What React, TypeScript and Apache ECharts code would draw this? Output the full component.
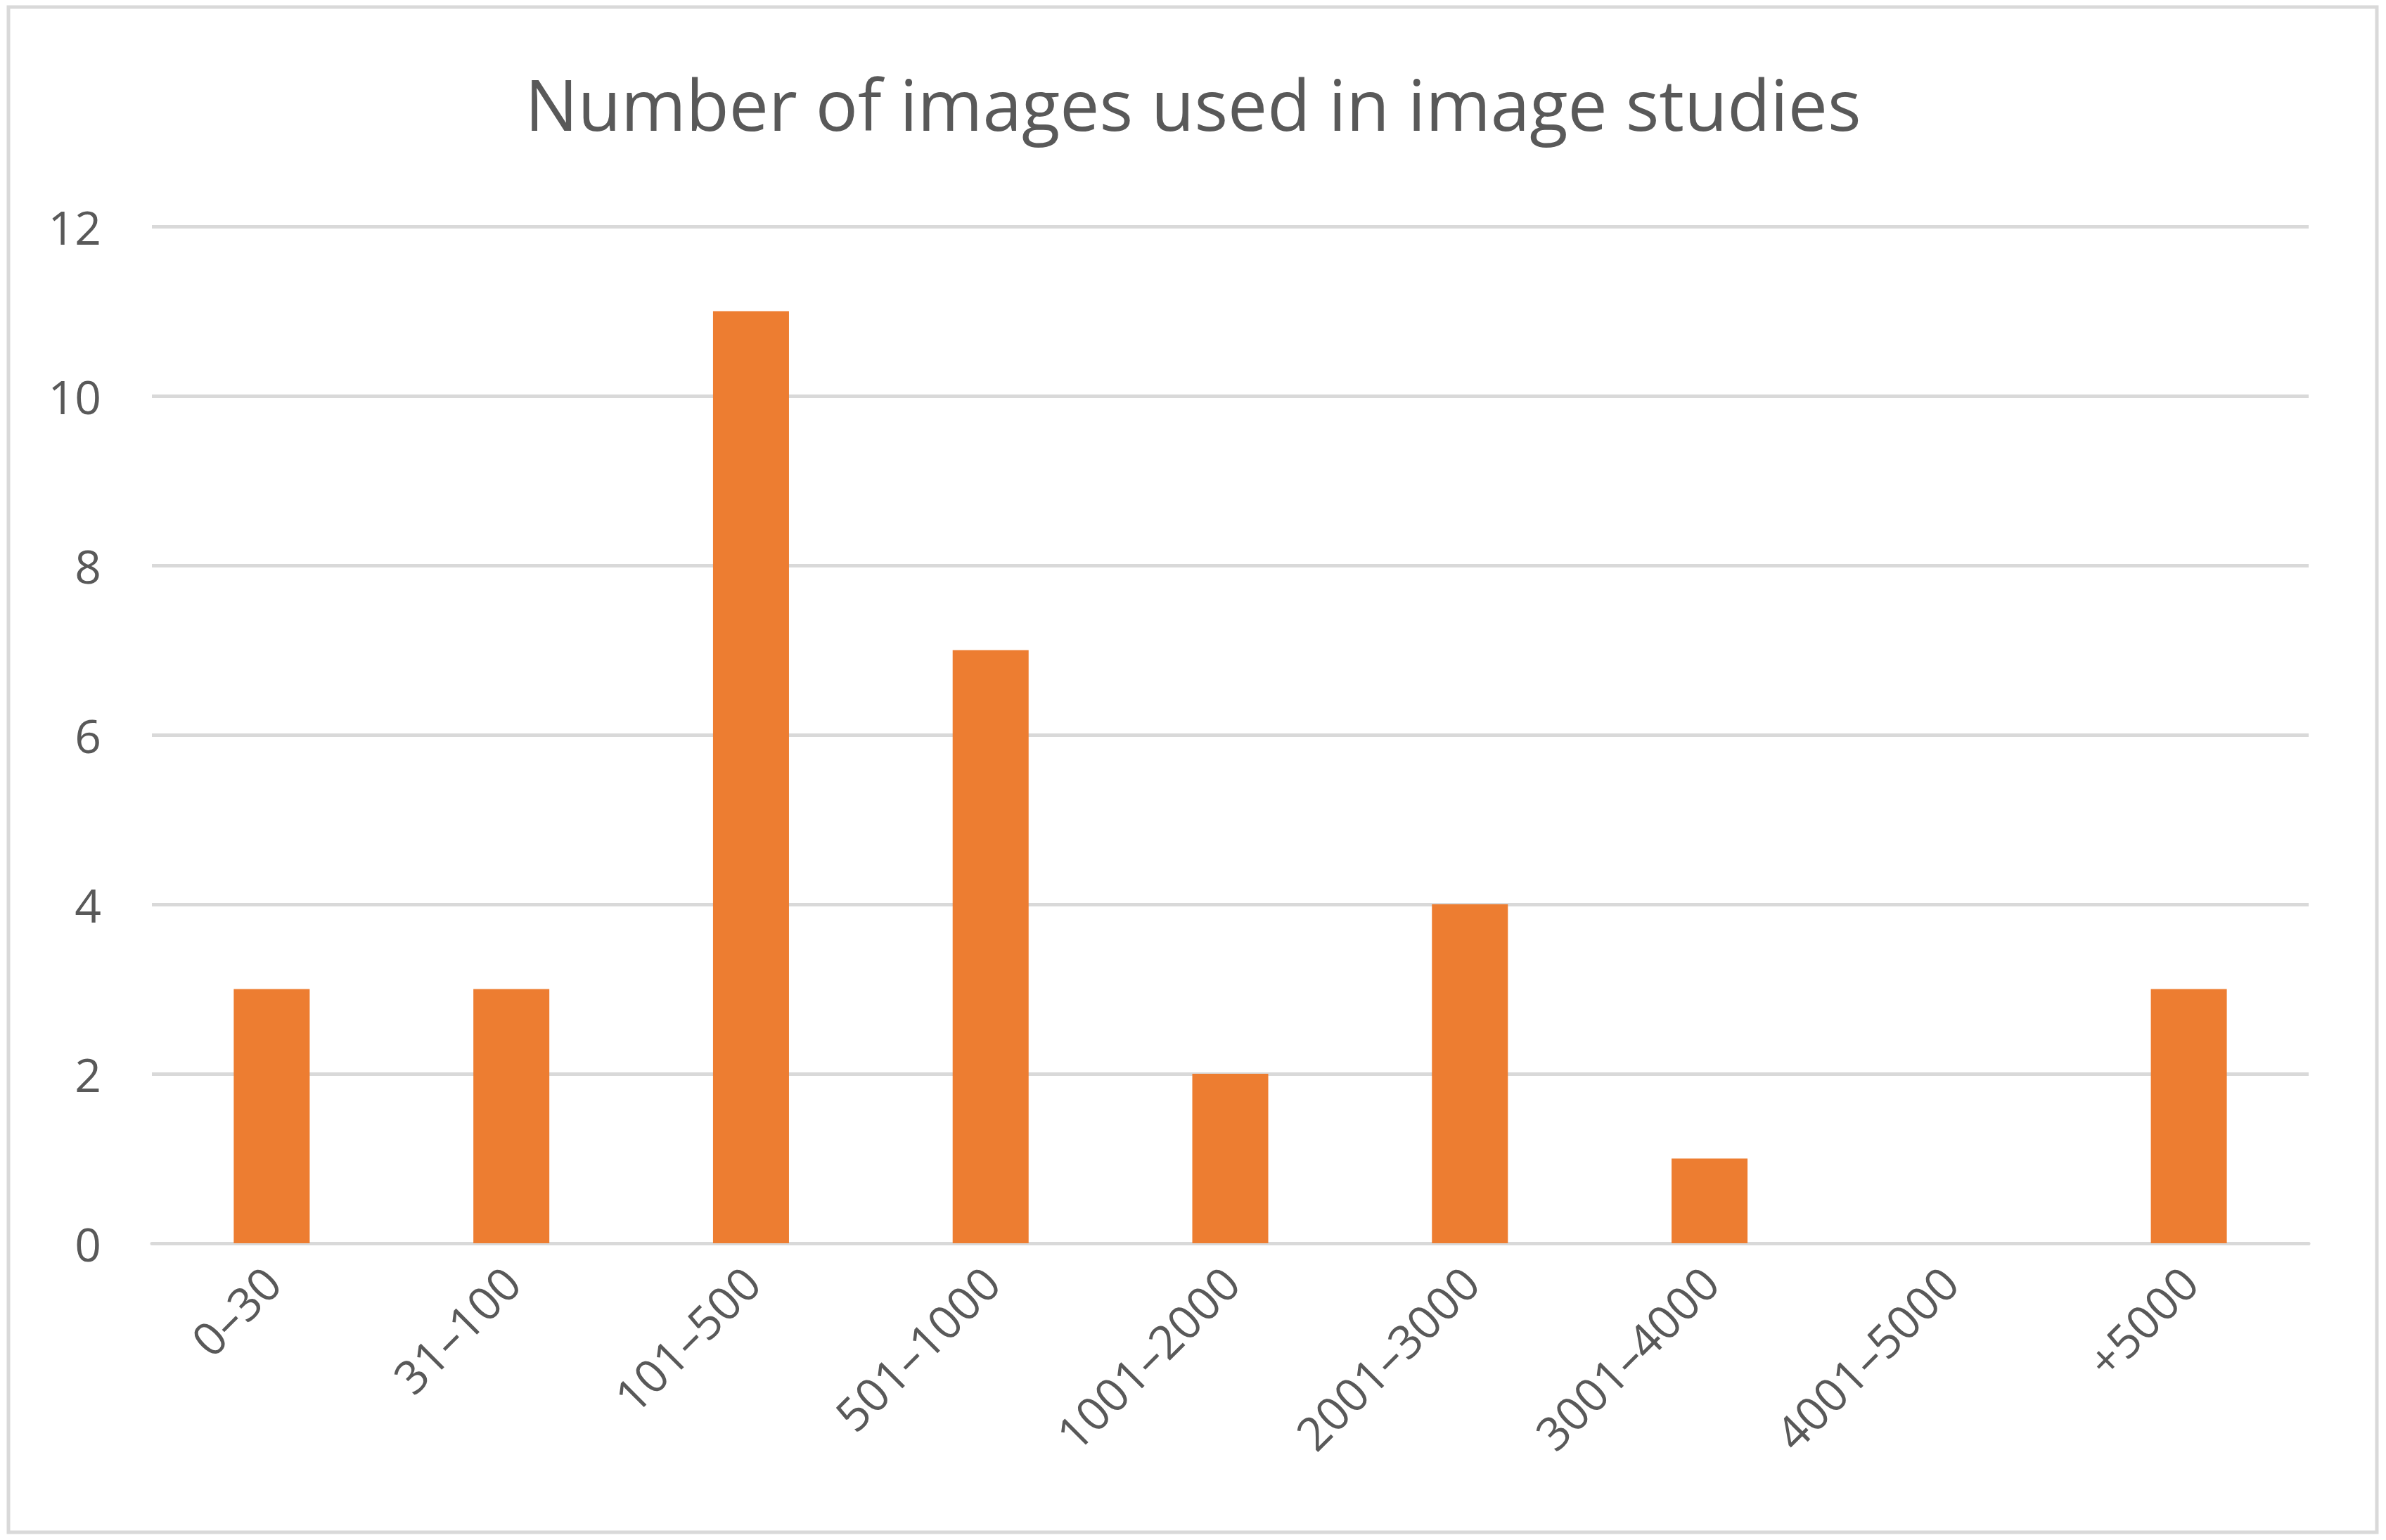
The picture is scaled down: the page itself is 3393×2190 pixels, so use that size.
import React, { useEffect, useRef } from "react";
import * as echarts from "echarts";

const categories = ["0–30", "31–100", "101–500", "501–1000", "1001–2000", "2001–3000", "3001–4000", "4001–5000", "+5000"];
const counts = [3, 3, 11, 7, 2, 4, 1, 0, 3];
const yMin = 0;
const yMax = 12;
const yInterval = 2;
const titleText = "Number of images used in image studies";

export default function App() {
  const ref = useRef<HTMLDivElement>(null);
  useEffect(() => {
    if (!ref.current) return;
    const chart = echarts.init(ref.current, undefined, { renderer: "svg" });
    const font = "'Open Sans', sans-serif";
    chart.setOption({
      animation: false,
      backgroundColor: "#ffffff",
      title: {
        text: titleText,
        left: "center",
        top: 92,
        textStyle: { fontFamily: font, fontSize: 100, fontWeight: "normal", color: "#595959" },
      },
      grid: { left: 216, right: 110, top: 322, bottom: 422, containLabel: false },
      xAxis: {
        type: "category",
        data: categories,
        axisLine: { show: true, lineStyle: { color: "#d9d9d9", width: 5 } },
        axisTick: { show: false },
        axisLabel: {
          rotate: 45,
          margin: 44,
          interval: 0,
          fontFamily: font,
          fontSize: 66,
          color: "#595959",
        },
      },
      yAxis: {
        type: "value",
        min: yMin,
        max: yMax,
        interval: yInterval,
        axisLine: { show: false },
        axisTick: { show: false },
        splitLine: { lineStyle: { color: "#d9d9d9", width: 5 } },
        axisLabel: { margin: 72, fontFamily: font, fontSize: 66, color: "#595959" },
      },
      series: [
        {
          type: "bar",
          data: counts,
          barWidth: "31.7%",
          itemStyle: { color: "#ED7D31" },
        },
      ],
      graphic: [
        {
          type: "rect",
          shape: { x: 12, y: 10, width: 3368, height: 2169 },
          style: { fill: "none", stroke: "#d9d9d9", lineWidth: 5 },
          silent: true,
        },
      ],
    });
    return () => chart.dispose();
  }, []);
  return (
    <div
      ref={ref}
      style={{ position: "fixed", left: 0, top: 0, width: 3393, height: 2190, background: "#fff" }}
    />
  );
}
